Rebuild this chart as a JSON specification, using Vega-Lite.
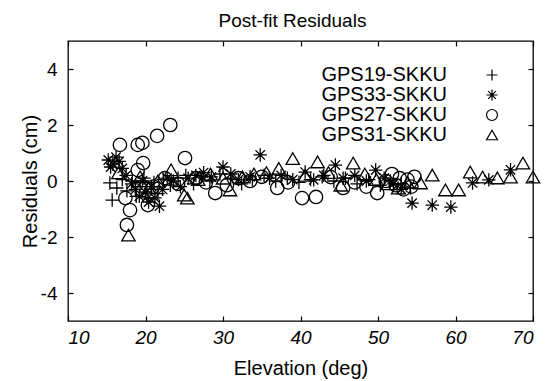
{
  "$schema": "https://vega.github.io/schema/vega-lite/v6.json",
  "width": 465,
  "height": 280,
  "autosize": {"type": "none"},
  "padding": {"left": 68, "top": 41, "right": 13, "bottom": 60},
  "background": "white",
  "title": {"text": "Post-fit Residuals", "fontSize": 19, "font": "Liberation Sans", "fontWeight": "normal", "color": "black", "baseline": "alphabetic", "offset": -6, "dx": -8},
  "config": {
    "view": {"stroke": "black", "strokeWidth": 1.3},
    "axis": {"labelFont": "Liberation Sans", "titleFont": "Liberation Sans", "labelFontSize": 19, "titleFontSize": 20, "labelColor": "black", "titleColor": "black", "titleFontWeight": "normal", "tickColor": "black", "tickSize": -5, "tickWidth": 1.2, "domain": false, "grid": false},
    "legend": {"title": null, "labelFont": "Liberation Sans", "labelFontSize": 20, "labelColor": "black", "labelAlign": "right", "labelOffset": -55, "symbolStrokeColor": "black", "symbolFillColor": "transparent", "symbolStrokeWidth": 1.2, "symbolSize": 120, "rowPadding": 0, "padding": 0}
  },
  "data": {"values": [
    {"s": "GPS19-SKKU", "e": 15.4, "r": -0.07}, {"s": "GPS19-SKKU", "e": 15.7, "r": -0.68}, {"s": "GPS19-SKKU", "e": 16.3, "r": -0.25}, {"s": "GPS19-SKKU", "e": 17.0, "r": 0.05}, {"s": "GPS19-SKKU", "e": 17.6, "r": -0.35}, {"s": "GPS19-SKKU", "e": 18.3, "r": 0.0}, {"s": "GPS19-SKKU", "e": 18.8, "r": -0.55}, {"s": "GPS19-SKKU", "e": 19.3, "r": -0.2}, {"s": "GPS19-SKKU", "e": 19.8, "r": 0.1}, {"s": "GPS19-SKKU", "e": 20.2, "r": -0.6}, {"s": "GPS19-SKKU", "e": 20.7, "r": -0.3}, {"s": "GPS19-SKKU", "e": 21.1, "r": -0.05}, {"s": "GPS19-SKKU", "e": 21.6, "r": -0.45}, {"s": "GPS19-SKKU", "e": 22.3, "r": 0.05}, {"s": "GPS19-SKKU", "e": 23.2, "r": -0.15}, {"s": "GPS19-SKKU", "e": 24.2, "r": 0.1}, {"s": "GPS19-SKKU", "e": 25.2, "r": 0.2}, {"s": "GPS19-SKKU", "e": 26.2, "r": -0.1}, {"s": "GPS19-SKKU", "e": 27.2, "r": 0.15}, {"s": "GPS19-SKKU", "e": 28.3, "r": 0.0}, {"s": "GPS19-SKKU", "e": 29.6, "r": 0.25}, {"s": "GPS19-SKKU", "e": 31.0, "r": 0.1}, {"s": "GPS19-SKKU", "e": 32.4, "r": -0.1}, {"s": "GPS19-SKKU", "e": 33.8, "r": 0.05}, {"s": "GPS19-SKKU", "e": 35.3, "r": 0.2}, {"s": "GPS19-SKKU", "e": 36.8, "r": 0.0}, {"s": "GPS19-SKKU", "e": 38.3, "r": 0.1}, {"s": "GPS19-SKKU", "e": 39.8, "r": -0.05}, {"s": "GPS19-SKKU", "e": 41.3, "r": 0.05}, {"s": "GPS19-SKKU", "e": 42.8, "r": 0.15}, {"s": "GPS19-SKKU", "e": 44.3, "r": 0.0}, {"s": "GPS19-SKKU", "e": 45.8, "r": 0.1}, {"s": "GPS19-SKKU", "e": 47.3, "r": -0.1}, {"s": "GPS19-SKKU", "e": 48.8, "r": 0.05}, {"s": "GPS19-SKKU", "e": 50.3, "r": -0.15}, {"s": "GPS19-SKKU", "e": 51.6, "r": 0.0}, {"s": "GPS19-SKKU", "e": 53.0, "r": -0.1}, {"s": "GPS19-SKKU", "e": 54.2, "r": -0.25},
    {"s": "GPS33-SKKU", "e": 15.2, "r": 0.75}, {"s": "GPS33-SKKU", "e": 15.5, "r": 0.5}, {"s": "GPS33-SKKU", "e": 15.8, "r": 0.6}, {"s": "GPS33-SKKU", "e": 16.2, "r": 0.85}, {"s": "GPS33-SKKU", "e": 16.6, "r": 0.7}, {"s": "GPS33-SKKU", "e": 17.0, "r": 0.45}, {"s": "GPS33-SKKU", "e": 17.5, "r": 0.2}, {"s": "GPS33-SKKU", "e": 18.2, "r": -0.1}, {"s": "GPS33-SKKU", "e": 18.7, "r": -0.3}, {"s": "GPS33-SKKU", "e": 19.2, "r": -0.55}, {"s": "GPS33-SKKU", "e": 19.6, "r": 0.0}, {"s": "GPS33-SKKU", "e": 20.0, "r": -0.4}, {"s": "GPS33-SKKU", "e": 20.4, "r": -0.75}, {"s": "GPS33-SKKU", "e": 20.8, "r": -0.2}, {"s": "GPS33-SKKU", "e": 21.2, "r": -0.6}, {"s": "GPS33-SKKU", "e": 21.8, "r": -0.9}, {"s": "GPS33-SKKU", "e": 22.2, "r": -0.3}, {"s": "GPS33-SKKU", "e": 22.8, "r": 0.1}, {"s": "GPS33-SKKU", "e": 23.6, "r": 0.0}, {"s": "GPS33-SKKU", "e": 24.5, "r": -0.2}, {"s": "GPS33-SKKU", "e": 25.5, "r": 0.1}, {"s": "GPS33-SKKU", "e": 26.5, "r": 0.2}, {"s": "GPS33-SKKU", "e": 27.5, "r": 0.3}, {"s": "GPS33-SKKU", "e": 28.5, "r": 0.15}, {"s": "GPS33-SKKU", "e": 30.0, "r": 0.5}, {"s": "GPS33-SKKU", "e": 31.0, "r": 0.25}, {"s": "GPS33-SKKU", "e": 32.0, "r": 0.05}, {"s": "GPS33-SKKU", "e": 33.5, "r": 0.15}, {"s": "GPS33-SKKU", "e": 34.8, "r": 0.93}, {"s": "GPS33-SKKU", "e": 36.0, "r": 0.1}, {"s": "GPS33-SKKU", "e": 37.5, "r": 0.2}, {"s": "GPS33-SKKU", "e": 39.0, "r": 0.05}, {"s": "GPS33-SKKU", "e": 40.6, "r": 0.32}, {"s": "GPS33-SKKU", "e": 41.7, "r": 0.04}, {"s": "GPS33-SKKU", "e": 43.0, "r": 0.2}, {"s": "GPS33-SKKU", "e": 44.5, "r": 0.57}, {"s": "GPS33-SKKU", "e": 45.5, "r": 0.1}, {"s": "GPS33-SKKU", "e": 47.0, "r": 0.2}, {"s": "GPS33-SKKU", "e": 48.5, "r": 0.0}, {"s": "GPS33-SKKU", "e": 49.7, "r": 0.39}, {"s": "GPS33-SKKU", "e": 50.8, "r": 0.1}, {"s": "GPS33-SKKU", "e": 52.0, "r": -0.1}, {"s": "GPS33-SKKU", "e": 53.0, "r": -0.3}, {"s": "GPS33-SKKU", "e": 54.4, "r": -0.79}, {"s": "GPS33-SKKU", "e": 57.0, "r": -0.86}, {"s": "GPS33-SKKU", "e": 59.4, "r": -0.93}, {"s": "GPS33-SKKU", "e": 62.2, "r": -0.07}, {"s": "GPS33-SKKU", "e": 64.3, "r": 0.04}, {"s": "GPS33-SKKU", "e": 67.1, "r": 0.4},
    {"s": "GPS27-SKKU", "e": 16.7, "r": 1.29}, {"s": "GPS27-SKKU", "e": 17.4, "r": -0.61}, {"s": "GPS27-SKKU", "e": 17.6, "r": -1.57}, {"s": "GPS27-SKKU", "e": 18.0, "r": -1.04}, {"s": "GPS27-SKKU", "e": 19.0, "r": 1.29}, {"s": "GPS27-SKKU", "e": 19.0, "r": 0.39}, {"s": "GPS27-SKKU", "e": 19.6, "r": 1.36}, {"s": "GPS27-SKKU", "e": 19.7, "r": 0.64}, {"s": "GPS27-SKKU", "e": 20.3, "r": -0.86}, {"s": "GPS27-SKKU", "e": 21.5, "r": 1.61}, {"s": "GPS27-SKKU", "e": 21.0, "r": -0.2}, {"s": "GPS27-SKKU", "e": 22.5, "r": 0.1}, {"s": "GPS27-SKKU", "e": 23.2, "r": 2.0}, {"s": "GPS27-SKKU", "e": 24.2, "r": -0.1}, {"s": "GPS27-SKKU", "e": 25.1, "r": 0.82}, {"s": "GPS27-SKKU", "e": 26.5, "r": 0.1}, {"s": "GPS27-SKKU", "e": 27.8, "r": -0.05}, {"s": "GPS27-SKKU", "e": 29.0, "r": -0.43}, {"s": "GPS27-SKKU", "e": 30.5, "r": -0.15}, {"s": "GPS27-SKKU", "e": 32.0, "r": 0.1}, {"s": "GPS27-SKKU", "e": 33.5, "r": 0.0}, {"s": "GPS27-SKKU", "e": 35.0, "r": 0.15}, {"s": "GPS27-SKKU", "e": 37.0, "r": -0.25}, {"s": "GPS27-SKKU", "e": 38.4, "r": -0.05}, {"s": "GPS27-SKKU", "e": 40.2, "r": -0.61}, {"s": "GPS27-SKKU", "e": 42.0, "r": -0.57}, {"s": "GPS27-SKKU", "e": 43.9, "r": 0.14}, {"s": "GPS27-SKKU", "e": 45.5, "r": -0.25}, {"s": "GPS27-SKKU", "e": 47.0, "r": -0.05}, {"s": "GPS27-SKKU", "e": 48.5, "r": -0.2}, {"s": "GPS27-SKKU", "e": 49.9, "r": -0.43}, {"s": "GPS27-SKKU", "e": 51.0, "r": 0.0}, {"s": "GPS27-SKKU", "e": 51.8, "r": 0.25}, {"s": "GPS27-SKKU", "e": 52.3, "r": -0.15}, {"s": "GPS27-SKKU", "e": 52.8, "r": 0.1}, {"s": "GPS27-SKKU", "e": 53.3, "r": -0.3}, {"s": "GPS27-SKKU", "e": 53.8, "r": 0.05}, {"s": "GPS27-SKKU", "e": 54.3, "r": -0.2}, {"s": "GPS27-SKKU", "e": 54.7, "r": 0.15},
    {"s": "GPS31-SKKU", "e": 16.5, "r": 0.29}, {"s": "GPS31-SKKU", "e": 17.8, "r": -1.93}, {"s": "GPS31-SKKU", "e": 19.3, "r": 0.15}, {"s": "GPS31-SKKU", "e": 20.4, "r": -0.25}, {"s": "GPS31-SKKU", "e": 21.6, "r": 0.0}, {"s": "GPS31-SKKU", "e": 23.3, "r": 0.4}, {"s": "GPS31-SKKU", "e": 25.0, "r": -0.5}, {"s": "GPS31-SKKU", "e": 25.4, "r": -0.61}, {"s": "GPS31-SKKU", "e": 26.8, "r": 0.05}, {"s": "GPS31-SKKU", "e": 28.4, "r": 0.25}, {"s": "GPS31-SKKU", "e": 30.0, "r": 0.1}, {"s": "GPS31-SKKU", "e": 30.9, "r": -0.32}, {"s": "GPS31-SKKU", "e": 32.5, "r": 0.15}, {"s": "GPS31-SKKU", "e": 34.0, "r": 0.25}, {"s": "GPS31-SKKU", "e": 35.6, "r": 0.3}, {"s": "GPS31-SKKU", "e": 37.2, "r": 0.45}, {"s": "GPS31-SKKU", "e": 39.0, "r": 0.8}, {"s": "GPS31-SKKU", "e": 40.6, "r": 0.2}, {"s": "GPS31-SKKU", "e": 42.2, "r": 0.68}, {"s": "GPS31-SKKU", "e": 43.6, "r": 0.3}, {"s": "GPS31-SKKU", "e": 45.2, "r": -0.15}, {"s": "GPS31-SKKU", "e": 46.8, "r": 0.64}, {"s": "GPS31-SKKU", "e": 48.3, "r": 0.25}, {"s": "GPS31-SKKU", "e": 49.8, "r": 0.05}, {"s": "GPS31-SKKU", "e": 51.3, "r": -0.1}, {"s": "GPS31-SKKU", "e": 52.6, "r": -0.25}, {"s": "GPS31-SKKU", "e": 53.8, "r": -0.05}, {"s": "GPS31-SKKU", "e": 55.5, "r": -0.07}, {"s": "GPS31-SKKU", "e": 57.0, "r": 0.21}, {"s": "GPS31-SKKU", "e": 58.7, "r": -0.32}, {"s": "GPS31-SKKU", "e": 60.4, "r": -0.32}, {"s": "GPS31-SKKU", "e": 61.9, "r": 0.32}, {"s": "GPS31-SKKU", "e": 63.5, "r": 0.14}, {"s": "GPS31-SKKU", "e": 65.4, "r": 0.11}, {"s": "GPS31-SKKU", "e": 67.1, "r": 0.14}, {"s": "GPS31-SKKU", "e": 68.7, "r": 0.64}, {"s": "GPS31-SKKU", "e": 70.0, "r": 0.14}
  ]},
  "resolve": {"axis": {"x": "independent", "y": "independent"}},
  "layer": [
    {
      "mark": {"type": "point", "filled": false, "stroke": "black", "strokeWidth": 1.3, "opacity": 1, "size": 180},
      "encoding": {
        "x": {"field": "e", "type": "quantitative", "scale": {"domain": [10, 70], "nice": false, "zero": false}, "axis": {"values": [10, 20, 30, 40, 50, 60, 70], "title": "Elevation (deg)", "labelFontStyle": "italic", "labelPadding": 12, "titlePadding": 11}},
        "y": {"field": "r", "type": "quantitative", "scale": {"domain": [-5, 5], "nice": false, "zero": false}, "axis": {"values": [-4, -2, 0, 2, 4], "title": "Residuals (cm)", "labelPadding": 16, "titlePadding": 0, "labelExpr": "'' + datum.value"}},
        "shape": {"field": "s", "type": "nominal", "scale": {"domain": ["GPS19-SKKU", "GPS33-SKKU", "GPS27-SKKU", "GPS31-SKKU"], "range": ["M-1,0L1,0M0,-1L0,1", "M-1,0L1,0M0,-1L0,1M-0.7,-0.7L0.7,0.7M-0.7,0.7L0.7,-0.7", "circle", "triangle-up"]}, "legend": {"orient": "none", "legendX": 414, "legendY": 24}}
      }
    },
    {
      "mark": {"type": "point", "opacity": 0},
      "encoding": {
        "x": {"field": "e", "type": "quantitative", "axis": {"orient": "top", "values": [10, 20, 30, 40, 50, 60, 70], "labels": false, "title": null}},
        "y": {"field": "r", "type": "quantitative", "axis": {"orient": "right", "values": [-4, -2, 0, 2, 4], "labels": false, "title": null}}
      }
    }
  ]
}
